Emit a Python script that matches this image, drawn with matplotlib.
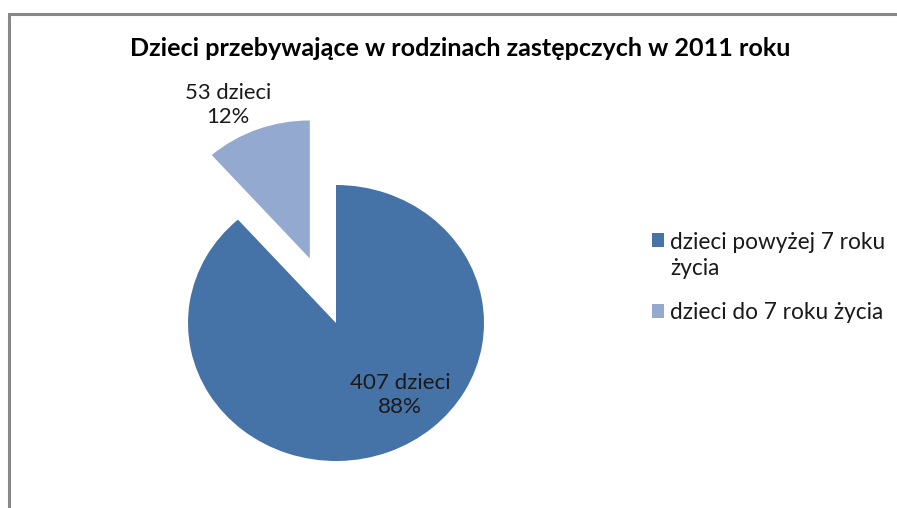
import matplotlib
matplotlib.use("Agg")
import matplotlib.pyplot as plt
from matplotlib.patches import Rectangle

# ---- data ----
title = "Dzieci przebywające w rodzinach zastępczych w 2011 roku"
categories = ["dzieci powyżej 7 roku\nżycia", "dzieci do 7 roku życia"]
counts = [407, 53]
colors = ["#4673A7", "#94A9D0"]

W, H = 897, 508
fig = plt.figure(figsize=(W / 100, H / 100), dpi=100)
fig.patch.set_facecolor("white")

FONT = ["Lato", "DejaVu Sans"]

# pie axes: center (336,323) px, rx=148 px, ry=138 px
cx, cy, rx, ry = 336, 323, 148, 138
xl, xr = -1.5, 1.5
yb, yt = -1.3, 1.7
left = (cx + xl * rx) / W
width = (xr - xl) * rx / W
bottom = (H - (cy - yb * ry)) / H
height = (yt - yb) * ry / H
ax = fig.add_axes([left, bottom, width, height])

wedges, _ = ax.pie(counts, colors=colors, startangle=90, counterclock=False,
                   explode=[0, 0.5], radius=1.0,
                   wedgeprops=dict(linewidth=0))
ax.set_aspect("auto")
ax.set_xlim(xl, xr)
ax.set_ylim(yb, yt)
ax.axis("off")
for w in wedges:
    w.set_clip_on(False)

fig.canvas.draw()
renderer = fig.canvas.get_renderer()


def fit(t, target_w):
    bb = t.get_window_extent(renderer)
    t.set_fontsize(t.get_fontsize() * target_w / bb.width)


total = sum(counts)
pcts = [round(100 * v / total) for v in counts]

# data labels (positions in px of figure)
lab_pos = [(400, 395), (228, 105)]
lab_w = [101, 87]
for v, p, (px, py), tw in zip(counts, pcts, lab_pos, lab_w):
    t = fig.text(px / W, 1 - py / H, f"{v} dzieci\n{p}%", ha="center", va="center",
                 fontsize=14, family=FONT, color="#1a1a1a", linespacing=1.3)
    fit(t, tw)

# title
tt = fig.text(460 / W, 1 - 48 / H, title, ha="center", va="center",
              fontsize=14, fontweight="bold", family=FONT, color="#000000")
fit(tt, 665)

# legend font size fitted to the reference width
probe = fig.text(0, 0, categories[1], family=FONT, fontsize=14)
fig.canvas.draw()
lfs = 14 * 215 / probe.get_window_extent(renderer).width
probe.remove()

leg = fig.legend(wedges, categories, loc="upper left",
                 bbox_to_anchor=(652 / W, 1 - 232 / H),
                 frameon=False, prop=dict(family=FONT, size=lfs),
                 handlelength=0.55, handleheight=0.55, handletextpad=0.25,
                 labelspacing=1.0, borderpad=0, borderaxespad=0)
for txt in leg.get_texts():
    txt.set_color("#1a1a1a")
    txt.set_linespacing(1.3)

# align the square of a multi-line entry with its first line
fig.canvas.draw()
texts = leg.get_texts()
h0 = texts[0].get_window_extent(renderer).height
h1 = texts[1].get_window_extent(renderer).height
shift_pt = (h0 - h1 - 10) * 72 / fig.dpi
hnd = leg.legend_handles[0]
hnd.set_y(hnd.get_y() + shift_pt)

# chart border
fig.add_artist(Rectangle((9 / W, -0.1), 1.2, 1 - 14 / H + 0.1, transform=fig.transFigure,
                         fill=False, edgecolor="#888888", linewidth=2.2))

fig.savefig("out.png", dpi=100, facecolor="white")
